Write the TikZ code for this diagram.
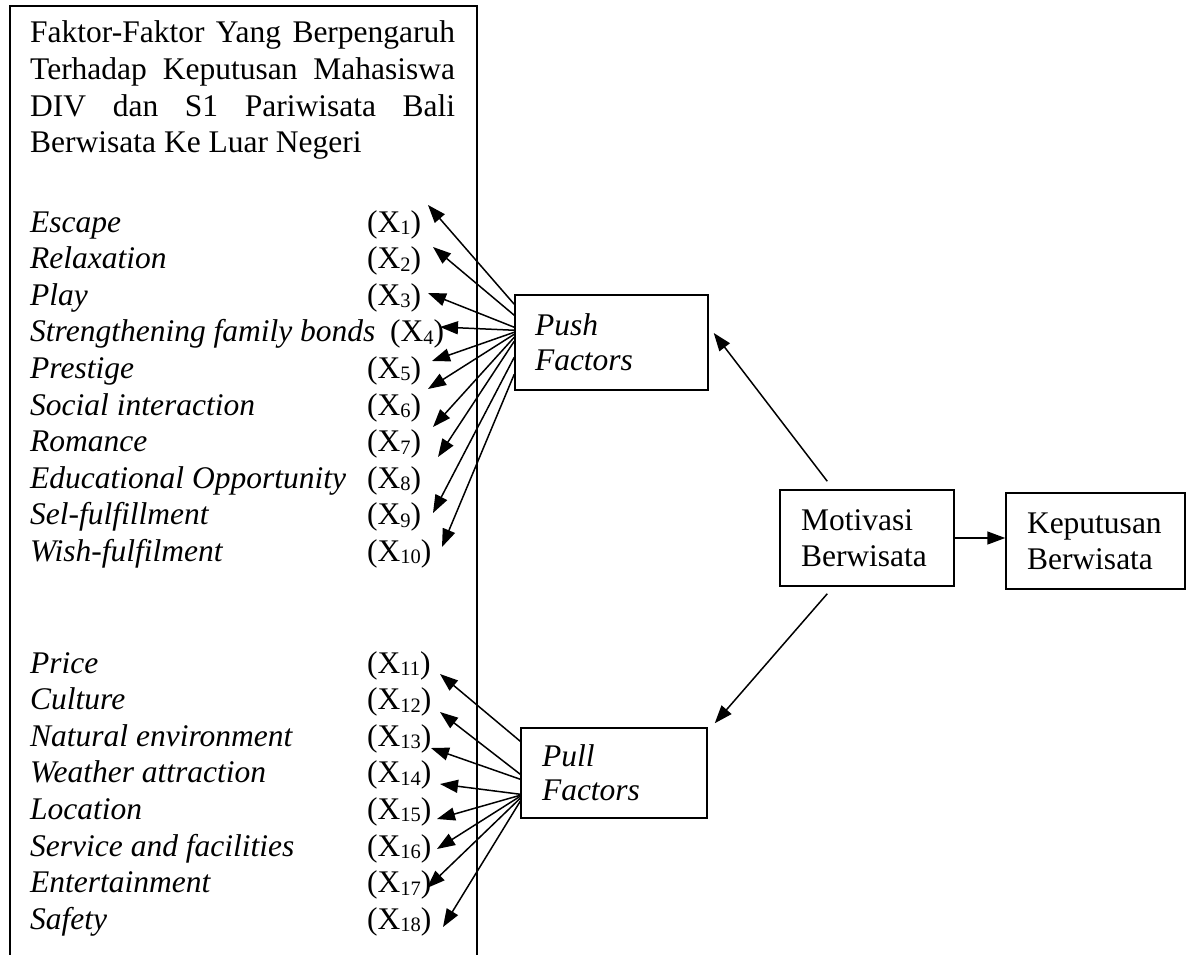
\documentclass[tikz,border=0pt]{standalone}
\usepackage{fontspec}
\setmainfont{Liberation Serif}
\usetikzlibrary{arrows.meta,calc}
\newcommand\sbx[1]{\raisebox{-2.5pt}{\fontsize{20.5}{20.5}\selectfont #1}}
\begin{document}
\begin{tikzpicture}[x=1pt,y=-1pt,
  every node/.style={font=\fontsize{31.5}{36.6}\selectfont, inner sep=0pt},
  row/.style={anchor=base west},
  lbl/.style={anchor=base west, font=\fontsize{31.5}{36.6}\selectfont\itshape},
  fbox/.style={draw, line width=1.5pt, align=left, inner ysep=0pt},
  conn/.style={line width=1.5pt, -{Triangle[length=18pt,width=13pt]}}]
\useasboundingbox (0,0) rectangle (1186,955);

% open frame
\draw[line width=1.5pt] (10,955) -- (10,6) -- (477,6) -- (477,955);

% title
\node[row] (t1) at (30,43) {\makebox[425pt][s]{Faktor-Faktor Yang Berpengaruh}};
\node[row] (t2) at (30,79.6) {\makebox[425pt][s]{Terhadap Keputusan Mahasiswa}};
\node[row] (t3) at (30,116.2) {\makebox[425pt][s]{DIV dan S1 Pariwisata Bali}};
\node[row] (t4) at (30,152.8) {Berwisata Ke Luar Negeri};

% push factor items
\foreach \t [count=\i] in {Escape,Relaxation,Play,Strengthening family bonds,Prestige,Social interaction,Romance,Educational Opportunity,Sel-fulfillment,Wish-fulfilment}
  \node[lbl] (l\i) at (30,{232+36.6*(\i-1)}) {\t};
\foreach \i in {1,2,3,5,6,7,8,9,10}
  \node[row] (x\i) at (367,{232+36.6*(\i-1)}) {(X\sbx{\i})};
\node[row] (x4) at (390,{232+36.6*3}) {(X\sbx{4})};

% pull factor items
\foreach \t [count=\j] in {Price,Culture,Natural environment,Weather attraction,Location,Service and facilities,Entertainment,Safety}{
  \pgfmathtruncatemacro\i{\j+10}
  \node[lbl] (l\i) at (30,{673+36.6*(\j-1)}) {\t};
  \node[row] (x\i) at (367,{673+36.6*(\j-1)}) {(X\sbx{\i})};
}

% boxes
\node[fbox, minimum width=193pt, minimum height=95pt, text width=153pt, inner xsep=20pt,
      font=\fontsize{31.5}{35}\selectfont\itshape] (push) at (611.5,342.5) {Push\\Factors};
\node[fbox, minimum width=186pt, minimum height=90pt, text width=144pt, inner xsep=21pt,
      font=\fontsize{31.5}{37}\selectfont\itshape] (pull) at (614,773) {\raisebox{-3pt}{Pull}\\Factors};
\node[fbox, minimum width=174pt, minimum height=96pt, text width=132pt, inner xsep=21pt,
      font=\fontsize{31.5}{36}\selectfont] (motiv) at (867,538) {Motivasi\\Berwisata};
\node[fbox, minimum width=179pt, minimum height=96pt, text width=137pt, inner xsep=21pt,
      font=\fontsize{31.5}{36}\selectfont] (kep) at (1095.5,541) {Keputusan\\Berwisata};

% push arrows
\foreach \i/\dy/\tx/\ty in {1/10/428/205, 2/21/433/247, 3/33/428/293, 4/36/440/327,
    5/38/432/361, 6/40/428/389, 7/43/433/427, 8/47/438/457, 9/63/433/513, 10/80/442/547}{
  \coordinate (tp\i) at (\tx,\ty);
  \draw[conn] ($(push.north west)+(0,\dy)$) -- (tp\i);
}
% pull arrows
\foreach \i/\dy/\tx/\ty in {11/14/440/674, 12/47/440/712, 13/52/431/748, 14/67/440/784,
    15/68/437/819, 16/69/437/849, 17/71/427/888, 18/74/443/927}{
  \coordinate (tp\i) at (\tx,\ty);
  \draw[conn] ($(pull.north west)+(0,\dy)$) -- (tp\i);
}

% motivasi arrows
\draw[conn] ($(motiv.north west)+(48,-8)$) -- ($(push.east)+(5,-9.5)$);
\draw[conn] ($(motiv.south west)+(48,7)$) -- ($(pull.north east)+(7,-4)$);
\draw[conn] (motiv.east) -- (motiv.east -| kep.west);
\end{tikzpicture}
\end{document}
